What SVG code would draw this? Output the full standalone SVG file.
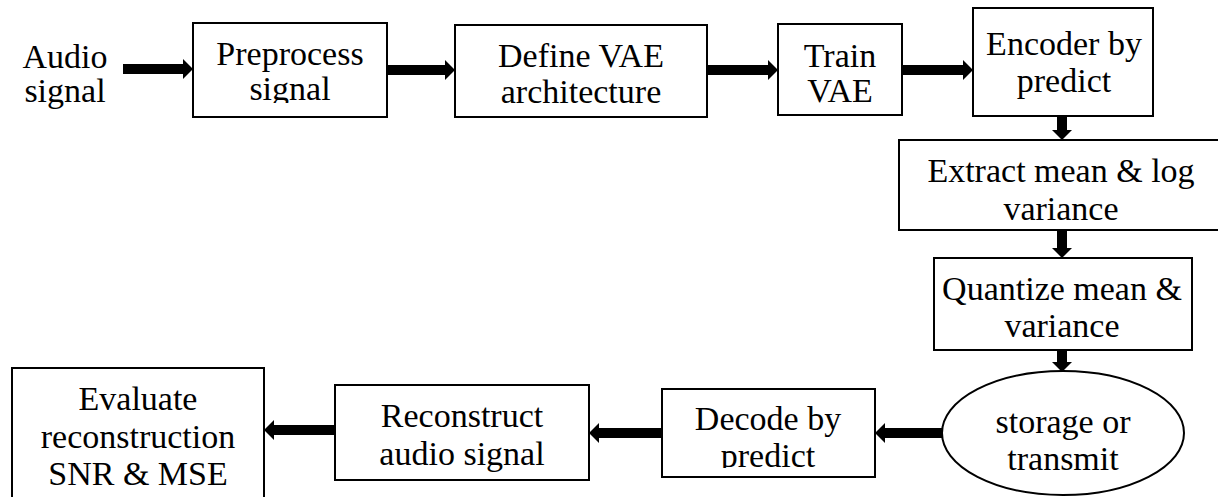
<svg xmlns="http://www.w3.org/2000/svg" width="1218" height="497" viewBox="0 0 1218 497">
<style>
.box{fill:#fff;stroke:#000;stroke-width:2}
.t{font-family:"Liberation Serif","Times New Roman",serif;font-size:34px;fill:#000;text-anchor:middle}
.arr{stroke:#000;stroke-width:10;fill:none;marker-end:url(#ah)}
</style>
<defs>
<marker id="ah" markerUnits="userSpaceOnUse" markerWidth="10" markerHeight="20" refX="1" refY="10" orient="auto" overflow="visible">
<path d="M0,0 L10,10 L0,20 z" fill="#000"/>
</marker>
<clipPath id="clipPre"><rect x="193" y="23" width="194" height="80"/></clipPath>
<clipPath id="clipDec"><rect x="662" y="389" width="213" height="79"/></clipPath>
</defs>
<rect width="1218" height="497" fill="#fff"/>
<g id="connectors">
<line class="arr" x1="123" y1="69" x2="184" y2="69"/>
<line class="arr" x1="387" y1="70" x2="446" y2="70"/>
<line class="arr" x1="707" y1="70" x2="769" y2="70"/>
<line class="arr" x1="902" y1="70" x2="964" y2="70"/>
<line class="arr" x1="1062" y1="116" x2="1062" y2="131"/>
<line class="arr" x1="1062" y1="230" x2="1062" y2="249"/>
<line class="arr" x1="1062" y1="350" x2="1062" y2="363"/>
<line class="arr" x1="942" y1="433" x2="884" y2="433"/>
<line class="arr" x1="662" y1="433" x2="598" y2="433"/>
<line class="arr" x1="335" y1="430" x2="273" y2="430"/>
</g>
<g id="audio">
<text class="t" x="65" y="68">Audio</text>
<text class="t" x="65" y="102">signal</text>
</g>
<g id="preprocess">
<rect class="box" x="193" y="23" width="194" height="94"/>
<text class="t" x="290" y="65">Preprocess</text>
<text class="t" x="290" y="100" clip-path="url(#clipPre)">signal</text>
</g>
<g id="define">
<rect class="box" x="455" y="25" width="252" height="92"/>
<text class="t" x="581" y="67">Define VAE</text>
<text class="t" x="581" y="103">architecture</text>
</g>
<g id="train">
<rect class="box" x="778" y="24" width="124" height="91"/>
<text class="t" x="840" y="67">Train</text>
<text class="t" x="840" y="102">VAE</text>
</g>
<g id="encoder">
<rect class="box" x="973" y="8" width="180" height="108"/>
<text class="t" x="1064" y="55">Encoder by</text>
<text class="t" x="1064" y="92">predict</text>
</g>
<g id="extract">
<rect class="box" x="899" y="140" width="320" height="90"/>
<text class="t" x="1061" y="182">Extract mean &amp; log</text>
<text class="t" x="1061" y="220">variance</text>
</g>
<g id="quantize">
<rect class="box" x="934" y="258" width="258" height="92"/>
<text class="t" x="1062" y="300">Quantize mean &amp;</text>
<text class="t" x="1062" y="337">variance</text>
</g>
<g id="storage">
<ellipse class="box" cx="1063" cy="433" rx="121" ry="62"/>
<text class="t" x="1063" y="433">storage or</text>
<text class="t" x="1063" y="470">transmit</text>
</g>
<g id="decode">
<rect class="box" x="662" y="389" width="213" height="88"/>
<text class="t" x="768" y="430">Decode by</text>
<text class="t" x="768" y="467" clip-path="url(#clipDec)">predict</text>
</g>
<g id="reconstruct">
<rect class="box" x="335" y="385" width="254" height="95"/>
<text class="t" x="462" y="427">Reconstruct</text>
<text class="t" x="462" y="465">audio signal</text>
</g>
<g id="evaluate">
<rect class="box" x="12" y="368" width="252" height="132"/>
<text class="t" x="138" y="410">Evaluate</text>
<text class="t" x="138" y="448">reconstruction</text>
<text class="t" x="138" y="485">SNR &amp; MSE</text>
</g>
</svg>
